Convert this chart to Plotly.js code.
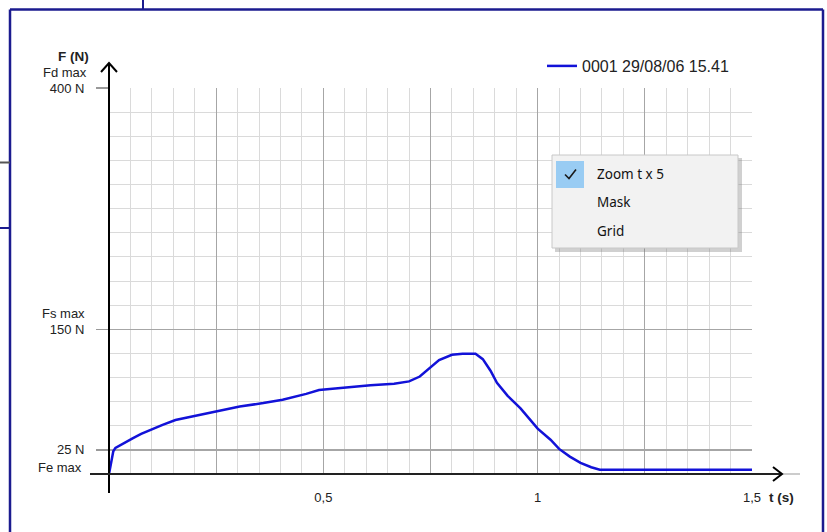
<!DOCTYPE html>
<html>
<head>
<meta charset="utf-8">
<script src="https://cdn.plot.ly/plotly-3.0.1.min.js"></script>
<style>
  html, body { margin: 0; padding: 0; background: #ffffff; }
  #chart { width: 827px; height: 532px; }
</style>
</head>
<body>
<div id="chart"></div>
<script>
// ---- data ----
const seriesName = "0001 29/08/06 15.41";
const timeS = [0, 0.004, 0.01, 0.015, 0.03, 0.055, 0.075, 0.1, 0.125, 0.155, 0.205, 0.25, 0.305, 0.36, 0.405, 0.46, 0.49, 0.515, 0.555, 0.61, 0.665, 0.7, 0.725, 0.75, 0.77, 0.8, 0.825, 0.855, 0.872, 0.89, 0.905, 0.93, 0.96, 1.0, 1.03, 1.05, 1.075, 1.1, 1.125, 1.145, 1.5];
const forceN = [0, 10, 23.5, 27, 31, 37, 41.5, 46.5, 51, 56, 60.5, 65, 70, 73.5, 77, 83, 87, 88, 90, 92, 93.5, 96, 101, 110.5, 118, 123.5, 124.7, 124.7, 119, 107, 94.5, 81, 68, 47, 35.5, 26, 18, 11.5, 7, 4.5, 4.5];

const xTickVals = [0.25, 0.5, 0.75, 1, 1.25, 1.5];
const xTickText = ["", "0,5", "", "1", "", "1,5"];
const yTickVals = [25, 150, 400];
const yTickText = ["25 N", "150 N", "400 N"];
const yLimitNames = ["Fe max", "Fs max", "Fd max"];
const menuItems = ["Zoom t x 5", "Mask", "Grid"];

// ---- layout geometry (pixels) ----
const WIDTH = 827, HEIGHT = 532;
const L = 109, R = 75, T = 88, B = 58;
const PW = WIDTH - L - R, PH = HEIGHT - T - B;
const px = x => (x - L) / PW;
const py = y => (HEIGHT - B - y) / PH;

const NAVY = '#1b1b8f';
const FONT = 'Liberation Sans, Arial, sans-serif';

function line(x0, y0, x1, y1, color, width) {
  return { type: 'line', xref: 'paper', yref: 'paper', x0: px(x0), y0: py(y0), x1: px(x1), y1: py(y1),
           line: { color: color, width: width }, layer: 'above' };
}
function rect(x0, y0, x1, y1, fill, lc, lw) {
  return { type: 'rect', xref: 'paper', yref: 'paper', x0: px(x0), y0: py(y0), x1: px(x1), y1: py(y1),
           fillcolor: fill, line: { color: lc || fill, width: lw || 0 }, layer: 'above' };
}
function path(pts, color, width) {
  const d = pts.map((p, i) => (i ? 'L' : 'M') + px(p[0]) + ',' + py(p[1])).join(' ');
  return { type: 'path', xref: 'paper', yref: 'paper', path: d, line: { color: color, width: width }, layer: 'above' };
}
function label(x, y, text, anchor, size, extra) {
  return Object.assign({ xref: 'paper', yref: 'paper', x: px(x), y: py(y), text: text, showarrow: false,
           xanchor: anchor, yanchor: 'middle', font: { family: FONT, size: size, color: '#222' } }, extra || {});
}

const shapes = [
  // window frame pieces
  line(10, 9.5, 823, 9.5, NAVY, 2.5),
  line(10, 9.5, 10, 540, NAVY, 2.5),
  line(823, 9.5, 823, 540, NAVY, 2.5),
  line(143, -5, 143, 9.5, NAVY, 2),
  line(-5, 162.5, 10, 162.5, '#555555', 2),
  line(-5, 228, 10, 228, NAVY, 2),
  // axes with arrows
  line(109, 493, 109, 64, '#000', 2),
  path([[101, 72], [109, 63], [117, 72]], '#000', 2),
  line(90, 474, 781, 474, '#222', 2),
  line(781, 474, 800, 474, '#bbbbbb', 1.5),
  path([[773, 467], [782, 474], [773, 481]], '#000', 2),
  // context menu
  rect(555, 158, 742, 252, 'rgba(120,120,120,0.35)'),
  rect(552, 155, 738, 248, '#f2f2f2', '#c8c8c8', 1),
  rect(556, 161, 584, 188, '#99ccf3'),
  path([[565, 174.5], [569, 178.5], [576, 169.5]], '#1a1a1a', 1.6)
];

const annotations = [
  label(91, 57, '<b>F (N)</b>', 'right', 13.5),
  label(89, 72.5, 'Fd max', 'right', 13),
  label(87, 313.5, 'Fs max', 'right', 13),
  label(84, 467, 'Fe max', 'right', 13),
  label(767, 497, '<b>t (s)</b>', 'left', 13.5)
];
menuItems.forEach((m, i) => {
  annotations.push(label(595, 173.5 + i * 28.5, m, 'left', 13.5,
    { font: { family: 'Noto Sans, Open Sans, sans-serif', size: 13.5, color: '#111' } }));
});

const trace = {
  type: 'scatter', mode: 'lines', name: seriesName,
  x: timeS, y: forceN,
  line: { color: '#1212d8', width: 2.5 },
  hoverinfo: 'skip'
};

const layout = {
  width: WIDTH, height: HEIGHT,
  margin: { l: L, r: R, t: T, b: B, pad: 0 },
  paper_bgcolor: '#ffffff', plot_bgcolor: '#ffffff',
  showlegend: true,
  legend: {
    x: px(542), y: py(66), xanchor: 'left', yanchor: 'middle',
    bgcolor: 'rgba(0,0,0,0)', borderwidth: 0,
    font: { family: FONT, size: 16, color: '#222' }
  },
  xaxis: {
    range: [0, 1.5], fixedrange: true,
    tickmode: 'array', tickvals: xTickVals, ticktext: xTickText,
    showgrid: true, gridcolor: '#a6a6a6', gridwidth: 1.3,
    minor: { dtick: 0.05, tick0: 0, showgrid: true, gridcolor: '#dadada', gridwidth: 1 },
    zeroline: false, showline: false, ticks: '',
    ticklabelstandoff: 14,
    tickfont: { family: FONT, size: 13, color: '#222' }
  },
  yaxis: {
    range: [0, 400], fixedrange: true,
    tickmode: 'array', tickvals: yTickVals, ticktext: yTickText,
    showgrid: true, gridcolor: '#a6a6a6', gridwidth: 1.3,
    minor: { dtick: 25, tick0: 0, showgrid: true, gridcolor: '#dadada', gridwidth: 1 },
    zeroline: false, showline: false,
    ticks: 'outside', ticklen: 12, tickcolor: '#999999', tickwidth: 1.3,
    ticklabelstandoff: 9,
    tickfont: { family: FONT, size: 13, color: '#222' }
  },
  shapes: shapes,
  annotations: annotations
};

Plotly.newPlot('chart', [trace], layout, { displayModeBar: false, staticPlot: true });
</script>
</body>
</html>
